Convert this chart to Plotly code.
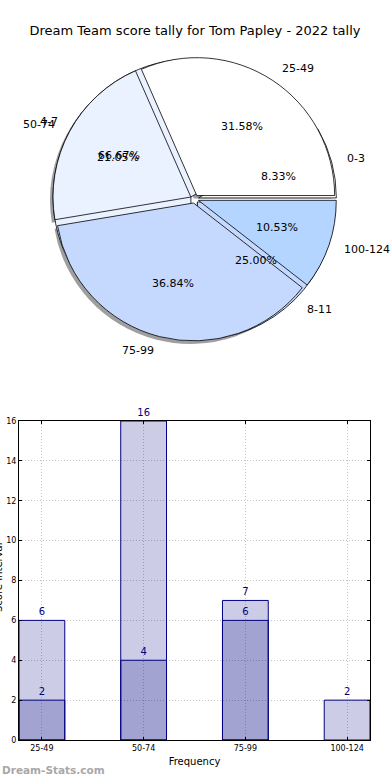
import math
import plotly.graph_objects as go

# ---------------- data ----------------
title_text = "Dream Team score tally for Tom Papley - 2022 tally"
score_labels = ["25-49", "50-74", "75-99", "100-124"]
score_counts = [6, 4, 7, 2]
score_colors = ["#ffffff", "#eaf1ff", "#c5d9ff", "#b3d5ff"]

goal_labels = ["0-3", "4-7", "8-11"]
goal_counts = [1, 8, 3]
goal_colors = ["#ffffff", "#eaf1ff", "#c5d9ff"]

bar_categories = ["25-49", "50-74", "75-99", "100-124"]
bar_series_a = [6, 16, 7, 2]
bar_series_b = [2, 4, 6, None]
y_ticks = [0, 2, 4, 6, 8, 10, 12, 14, 16]

# ---------------- geometry ----------------
W, H = 390, 780
ML, MR, MT, MB = 19, 20, 0, 40
PW, PH = W - ML - MR, H - MT - MB
PULL = 0.03

pie_cx, pie_cy = 194.5, 199.0
pie_box = 284.0
pie_r = (pie_box / 2) / (1 + PULL)


def px_to_paper(px, py):
    return (px - ML) / PW, (PH + MT - py) / PH


dom_x = [0.0, 1.0]
dom_y = [px_to_paper(0, pie_cy + pie_box / 2)[1], px_to_paper(0, pie_cy - pie_box / 2)[1]]

sh_dx, sh_dy = -3.0, 3.0
sh_dom_x = [0.0, 1.0 + 2 * sh_dx / PW]
sh_dom_y = [dom_y[0] - sh_dy / PH, dom_y[1] - sh_dy / PH]

# slices laid out counter-clockwise from 3 o'clock (drawn clockwise in reverse order)
PIE_DIR = "clockwise"
PIE_ROT = 90

fig = go.Figure()

# shadow
fig.add_trace(go.Pie(
    values=score_counts[::-1], labels=score_labels[::-1], sort=False, direction=PIE_DIR,
    rotation=PIE_ROT, pull=[PULL] * len(score_counts), domain=dict(x=sh_dom_x, y=sh_dom_y),
    marker=dict(colors=["rgba(80,80,80,0.55)"] * len(score_counts), line=dict(width=0)),
    textinfo="none", hoverinfo="skip", showlegend=False))

# underlying pie
fig.add_trace(go.Pie(
    values=goal_counts[::-1], labels=goal_labels[::-1], sort=False, direction=PIE_DIR,
    rotation=PIE_ROT, pull=[PULL] * len(goal_counts), domain=dict(x=dom_x, y=dom_y),
    marker=dict(colors=goal_colors[::-1], line=dict(color="black", width=0.8)),
    textinfo="none", hoverinfo="label+percent", showlegend=False))

# top pie
fig.add_trace(go.Pie(
    values=score_counts[::-1], labels=score_labels[::-1], sort=False, direction=PIE_DIR,
    rotation=PIE_ROT, pull=[PULL] * len(score_counts), domain=dict(x=dom_x, y=dom_y),
    marker=dict(colors=score_colors[::-1], line=dict(color="black", width=0.8)),
    textinfo="none", hoverinfo="label+percent", showlegend=False))

annotations = []


def pie_annotations(labels, counts):
    total = float(sum(counts))
    cum = 0.0
    for lab, v in zip(labels, counts):
        theta = 2 * math.pi * (cum + v / 2.0) / total
        cum += v
        c, s = math.cos(theta), math.sin(theta)
        off = PULL * pie_r
        # label
        lx = pie_cx + off * c + 1.1 * pie_r * c
        ly = pie_cy - off * s - 1.1 * pie_r * s
        x, y = px_to_paper(lx, ly)
        annotations.append(dict(x=x, y=y, xref="paper", yref="paper", text=lab,
                                showarrow=False, xanchor="left" if c > 0 else "right",
                                yanchor="middle", font=dict(size=11, color="black")))
        # percent
        tx = pie_cx + off * c + 0.6 * pie_r * c
        ty = pie_cy - off * s - 0.6 * pie_r * s
        x, y = px_to_paper(tx, ty)
        annotations.append(dict(x=x, y=y, xref="paper", yref="paper",
                                text="%.2f%%" % (100.0 * v / total),
                                showarrow=False, xanchor="center", yanchor="middle",
                                font=dict(size=11, color="black")))


pie_annotations(score_labels, score_counts)
pie_annotations(goal_labels, goal_counts)

# ---------------- bars ----------------
bar_fill = "rgba(0,0,128,0.2)"
for vals in (bar_series_a, bar_series_b):
    fig.add_trace(go.Bar(
        x=bar_categories, y=vals, width=0.45,
        marker=dict(color=bar_fill, line=dict(color="navy", width=1)),
        text=[("" if v is None else str(v)) for v in vals],
        textposition="outside", textfont=dict(color="navy", size=10),
        cliponaxis=False, showlegend=False, hoverinfo="x+y"))

bar_top = px_to_paper(0, 421)[1]

grid_style = dict(showgrid=True, gridcolor="#c4c4c4", griddash="1px,2px", gridwidth=1)

fig.update_layout(
    width=W, height=H, margin=dict(l=ML, r=MR, t=MT, b=MB, autoexpand=False),
    paper_bgcolor="white", plot_bgcolor="white",
    font=dict(family="DejaVu Sans", color="black"),
    barmode="overlay",
    title=dict(text=title_text, x=0.5, xref="container", xanchor="center",
               y=1 - 30.0 / H, yref="container", yanchor="middle",
               font=dict(size=13, color="black")),
    xaxis=dict(domain=[0, 1], range=[-0.225, 3.225], type="category", automargin=False,
               showline=True, linecolor="black", linewidth=1, mirror="allticks",
               ticks="inside", ticklen=3, tickcolor="black",
               tickfont=dict(size=8, family="DejaVu Sans"),
               title=dict(text="Frequency", font=dict(size=10), standoff=6), **grid_style),
    yaxis=dict(domain=[0, bar_top], range=[0, 16], tickvals=y_ticks, automargin=False,
               showline=True, linecolor="black", linewidth=1, mirror="allticks",
               ticks="inside", ticklen=3, tickcolor="black",
               zeroline=False, tickfont=dict(size=8, family="DejaVu Sans"), **grid_style),
    annotations=annotations,
)

wx, wy = px_to_paper(0, 770)
fig.add_annotation(x=wx, y=wy, xref="paper", yref="paper", text="<b>Dream-Stats.com</b>",
                   showarrow=False, xanchor="left", yanchor="middle",
                   font=dict(size=10.5, color="#a8a8a8", family="DejaVu Sans"))
yx, yy = px_to_paper(-2, 578)
fig.add_annotation(x=yx, y=yy, xref="paper", yref="paper", text="Score Interval",
                   showarrow=False, textangle=-90, xanchor="center", yanchor="middle",
                   font=dict(size=10, color="black"))

fig.write_html("out.html", config={"displayModeBar": False},
               post_script="document.body.style.margin='0';document.body.style.overflow='hidden';")
